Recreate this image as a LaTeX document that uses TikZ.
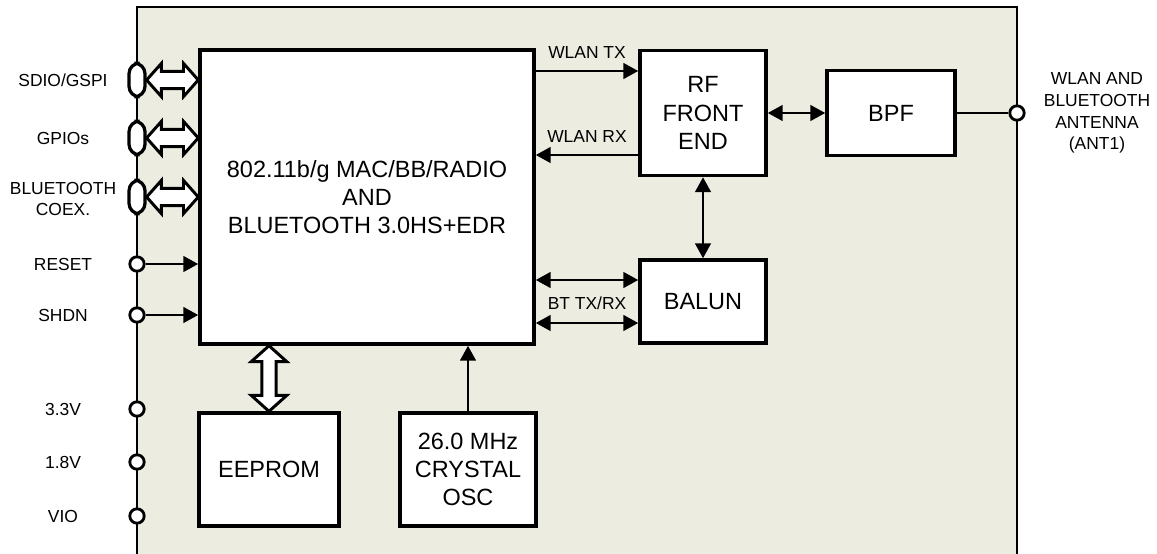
\documentclass[tikz,border=0pt]{standalone}
\usepackage{fontspec}
\setmainfont{Liberation Sans}
\usetikzlibrary{
  arrows.meta,
  positioning,
  calc
}
\definecolor{modulo}{RGB}{236,236,225}

% seta larga (barramento) horizontal e vertical
\newcommand{\barraH}[2]{%
  \draw[barra] let \p1=(#1), \p2=(#2) in
  (\x1,\y1) -- (\x1+10.5pt,\y1+11.8pt) -- (\x1+10.5pt,\y1+6.2pt)
  -- (\x2-10.5pt,\y2+6.2pt) -- (\x2-10.5pt,\y2+11.8pt) -- (\x2,\y2)
  -- (\x2-10.5pt,\y2-11.8pt) -- (\x2-10.5pt,\y2-6.2pt)
  -- (\x1+10.5pt,\y1-6.2pt) -- (\x1+10.5pt,\y1-11.8pt) -- cycle;}
\newcommand{\barraV}[2]{%
  \draw[barra] let \p1=(#1), \p2=(#2) in
  (\x1,\y1) -- (\x1+12.6pt,\y1-11.3pt) -- (\x1+5pt,\y1-11.3pt)
  -- (\x2+5pt,\y2+11.3pt) -- (\x2+12.6pt,\y2+11.3pt) -- (\x2,\y2)
  -- (\x2-12.6pt,\y2+11.3pt) -- (\x2-5pt,\y2+11.3pt)
  -- (\x1-5pt,\y1-11.3pt) -- (\x1-12.6pt,\y1-11.3pt) -- cycle;}

\begin{document}
\begin{tikzpicture}[
    x=0.025cm,y=-0.025cm,
    caixa/.style={
    draw,
    minimum width=3.15cm,
    minimum height=2.1cm,
    align=center,
    fill=white,
    inner sep=0pt,
    line width=2.4pt,
    font=\fontsize{16.7}{20}\selectfont
    },
    rotulo/.style={
    align=center,
    inner sep=1pt,
    font=\fontsize{12.4}{15.4}\selectfont
    },
    pino/.style={circle,draw,fill=white,line width=2pt,
    minimum size=0.36cm,inner sep=0pt},
    oval/.style={rounded corners=7.5pt,draw,fill=white,line width=2.3pt,
    minimum width=0.4cm,minimum height=0.84cm,inner sep=0pt},
    seta/.style={line width=2pt,-{Triangle[length=10.6pt,width=11pt]}},
    setadupla/.style={line width=2pt,
    {Triangle[length=10.6pt,width=11pt]}-{Triangle[length=10.6pt,width=11pt]}},
    fio/.style={line width=2pt},
    barra/.style={draw,fill=white,line width=2.1pt,line join=miter}
    ]

    \useasboundingbox (0,0) rectangle (1157,553);

    % modulo
    \path[fill=modulo,draw,line width=1.4pt]
    (137,556) -- (137,7) -- (1017,7) -- (1017,556);

    % blocos
    \node[caixa,minimum width=8.35cm,minimum height=7.35cm] (chip)
    at (367,197) {802.11b/g MAC/BB/RADIO\\AND\\BLUETOOTH 3.0HS+EDR};

    \node[caixa,minimum height=3.125cm] (rf)
    at (703,113) {RF\\FRONT\\END};

    \node[caixa,minimum width=3.2cm,minimum height=2.125cm] (bpf)
    at (891,113) {BPF};

    \node[caixa,minimum height=2.075cm] (balun)
    at (703,301.5) {BALUN};

    \node[caixa,minimum width=3.5cm,minimum height=2.825cm] (eeprom)
    at (269,469.5) {EEPROM};

    \node[caixa,minimum width=3.4cm,minimum height=2.825cm] (cristal)
    at (468,469.5) {26.0 MHz\\CRYSTAL\\OSC};

    % pinos da esquerda
    \node[oval] (sdio) at (137,80) {};
    \node[oval] (gpio) at (137,138) {};
    \node[oval] (coex) at (137,197) {};
    \node[pino] (reset) at (137,264) {};
    \node[pino] (shdn) at (137,315) {};
    \node[pino] (v33) at (137,409) {};
    \node[pino] (v18) at (137,462) {};
    \node[pino] (vio) at (137,516) {};

    \node[rotulo] (tsdio) at (63,80) {SDIO/GSPI};
    \node[rotulo] (tgpio) at (63,138) {GPIOs};
    \node[rotulo] (tcoex) at (63,199) {BLUETOOTH\\COEX.};
    \node[rotulo] (treset) at (63,264) {RESET};
    \node[rotulo] (tshdn) at (63,315) {SHDN};
    \node[rotulo] (tv33) at (63,409) {3.3V};
    \node[rotulo] (tv18) at (63,462) {1.8V};
    \node[rotulo] (tvio) at (63,516) {VIO};

    \barraH{sdio.east}{sdio -| chip.west}
    \barraH{gpio.east}{gpio -| chip.west}
    \barraH{coex.east}{coex -| chip.west}
    \draw[seta] (reset) -- (reset -| chip.west);
    \draw[seta] (shdn) -- (shdn -| chip.west);

    % EEPROM e cristal
    \barraV{eeprom.north |- chip.south}{eeprom.north}
    \draw[seta] (cristal) -- (cristal |- chip.south);

    % sinais de RF
    \coordinate (tx) at (587,71);
    \coordinate (rx) at (587,155);
    \coordinate (bt1) at (587,280);
    \coordinate (bt2) at (587,323);
    \draw[seta] (tx -| chip.east) -- (tx -| rf.west);
    \draw[seta] (rx -| rf.west) -- (rx -| chip.east);
    \draw[setadupla] (bt1 -| chip.east) -- (bt1 -| balun.west);
    \draw[setadupla] (bt2 -| chip.east) -- (bt2 -| balun.west);
    \node[rotulo] (ttx) at (587,52) {WLAN TX};
    \node[rotulo] (trx) at (587,136) {WLAN RX};
    \node[rotulo] (tbt) at (587,303) {BT TX/RX};

    \draw[setadupla] (rf) -- (bpf);
    \draw[setadupla] (rf) -- (balun);

    % antena
    \node[pino] (ant) at (1017,113) {};
    \draw[fio] (bpf) -- (ant);
    \node[rotulo] (tant) at (1097,113)
    {WLAN AND\\BLUETOOTH\\ANTENNA\\(ANT1)};

\end{tikzpicture}
\end{document}
